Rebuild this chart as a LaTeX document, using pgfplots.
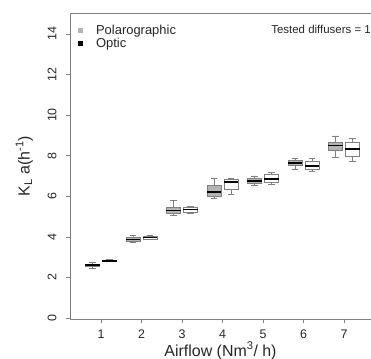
\documentclass[border=0pt]{standalone}
\usepackage{pgfplots}
\pgfplotsset{compat=1.18}
\usepgfplotslibrary{statistics}
\usepackage{fontspec}
\setmainfont{Liberation Sans}
\definecolor{boxgrey}{HTML}{B4B4B4}
\definecolor{edgegrey}{HTML}{808080}
\begin{document}
\begin{tikzpicture}
\begin{axis}[
  at={(0,0)}, anchor=south west,
  scale only axis, width=301bp, height=306bp,
  xmin=0.235, xmax=7.667, ymin=-0.05, ymax=15.03,
  axis line style={edgegrey, line width=0.6pt},
  xtick={1,...,7}, ytick={0,2,...,14},
  tick align=outside, xtick pos=bottom, ytick pos=left,
  major tick length=4bp,
  tick style={edgegrey, line width=0.6pt},
  /pgf/number format/assume math mode=true,
  ticklabel style={font=\fontsize{12.5}{12.5}\selectfont, text=black!85},
  yticklabel style={rotate=90, anchor=south, yshift=6bp},
  xticklabel style={yshift=-3bp},
  xlabel={Airflow (Nm\textsuperscript{3}/ h)},
  ylabel={K\textsubscript{L} a(h\textsuperscript{-1})},
  label style={font=\fontsize{16}{16}\selectfont, text=black!85},
  xlabel style={yshift=3bp},
  ylabel style={yshift=8bp},
  legend style={at={(0.015,0.975)}, anchor=north west, draw=none, fill=none,
    font=\fontsize{13}{15}\selectfont, row sep=-2bp, text=black!85},
  legend cell align=left,
  boxplot/draw direction=y,
  boxplot/box extend=0.35,
  boxplot/whisker extend=0.15,
  boxplot/every median/.style={black, line width=1.6pt},
  pol/.style={draw=edgegrey, fill=boxgrey, line width=0.6pt, solid},
  opt/.style={draw=edgegrey, fill=white, line width=0.6pt, solid},
]
\addlegendimage{only marks, mark=square*, mark size=2.2bp, color=boxgrey}
\addlegendentry{\hspace*{12bp}Polarographic}
\addlegendimage{only marks, mark=square*, mark size=2.2bp, color=black}
\addlegendentry{\hspace*{12bp}Optic}

% Polarographic (grey), offset -0.21
\addplot[pol, boxplot prepared={draw position=0.79, median=2.60, lower quartile=2.53, upper quartile=2.67, lower whisker=2.46, upper whisker=2.72}] coordinates {};
\addplot[pol, boxplot prepared={draw position=1.79, median=3.86, lower quartile=3.77, upper quartile=3.98, lower whisker=3.73, upper whisker=4.08}] coordinates {};
\addplot[pol, boxplot prepared={draw position=2.79, median=5.29, lower quartile=5.16, upper quartile=5.46, lower whisker=5.05, upper whisker=5.80}] coordinates {};
\addplot[pol, boxplot prepared={draw position=3.79, median=6.22, lower quartile=6.00, upper quartile=6.55, lower whisker=5.90, upper whisker=6.90}] coordinates {};
\addplot[pol, boxplot prepared={draw position=4.79, median=6.75, lower quartile=6.63, upper quartile=6.86, lower whisker=6.55, upper whisker=7.00}] coordinates {};
\addplot[pol, boxplot prepared={draw position=5.79, median=7.63, lower quartile=7.52, upper quartile=7.75, lower whisker=7.35, upper whisker=7.85}] coordinates {};
\addplot[pol, boxplot prepared={draw position=6.79, median=8.50, lower quartile=8.27, upper quartile=8.68, lower whisker=7.90, upper whisker=8.97}] coordinates {};

% Optic (white), offset +0.21
\addplot[opt, boxplot prepared={draw position=1.21, median=2.82, lower quartile=2.79, upper quartile=2.85, lower whisker=2.77, upper whisker=2.87}] coordinates {};
\addplot[opt, boxplot prepared={draw position=2.21, median=3.96, lower quartile=3.90, upper quartile=4.04, lower whisker=3.88, upper whisker=4.06}] coordinates {};
\addplot[opt, boxplot prepared={draw position=3.21, median=5.35, lower quartile=5.22, upper quartile=5.45, lower whisker=5.17, upper whisker=5.52}] coordinates {};
\addplot[opt, boxplot prepared={draw position=4.21, median=6.70, lower quartile=6.35, upper quartile=6.85, lower whisker=6.10, upper whisker=6.90}] coordinates {};
\addplot[opt, boxplot prepared={draw position=5.21, median=6.85, lower quartile=6.68, upper quartile=7.08, lower whisker=6.60, upper whisker=7.20}] coordinates {};
\addplot[opt, boxplot prepared={draw position=6.21, median=7.50, lower quartile=7.33, upper quartile=7.70, lower whisker=7.22, upper whisker=7.87}] coordinates {};
\addplot[opt, boxplot prepared={draw position=7.21, median=8.33, lower quartile=7.95, upper quartile=8.67, lower whisker=7.70, upper whisker=8.87}] coordinates {};

\node[anchor=north east, font=\fontsize{11.5}{12}\selectfont, text=black!85, inner sep=0pt] at (rel axis cs:1,0.96) {Tested diffusers = 1};
\end{axis}
\pgfresetboundingbox
\path[use as bounding box] (-70bp,-40bp) rectangle (301bp,319bp);
\end{tikzpicture}
\end{document}
